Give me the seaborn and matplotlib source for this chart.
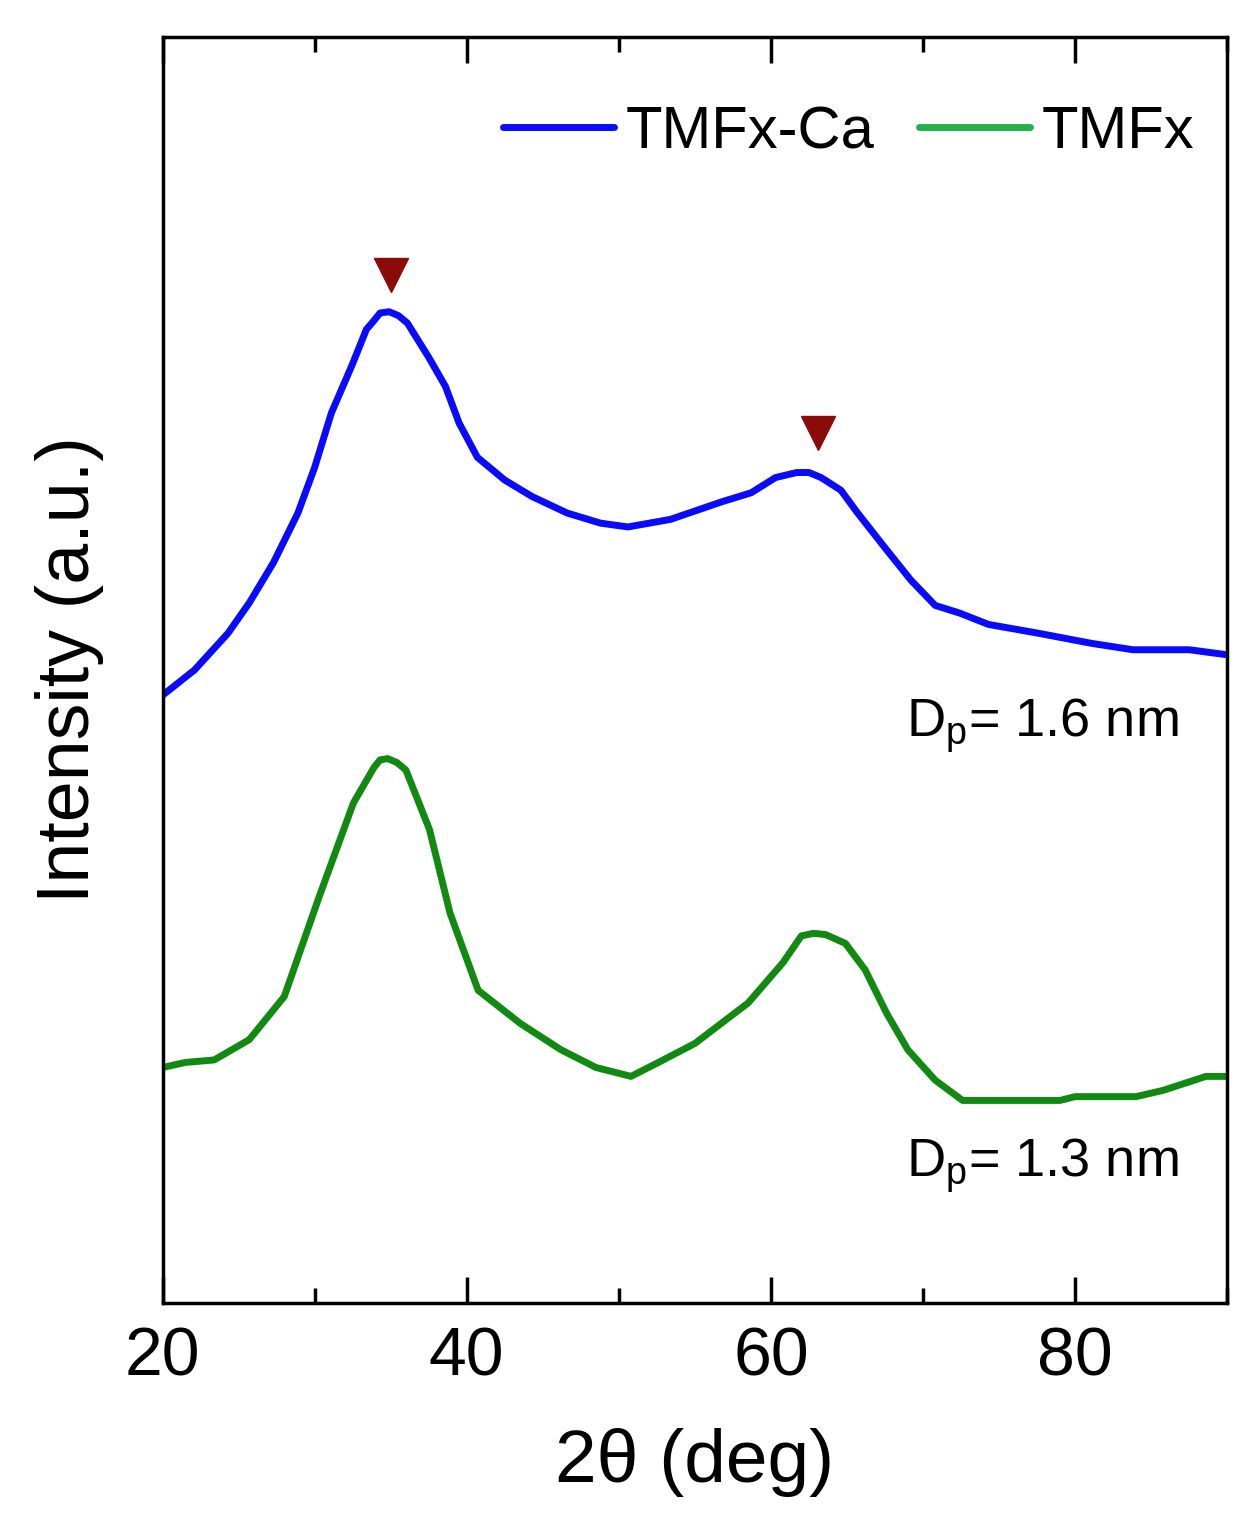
import pandas as pd
import matplotlib
matplotlib.use("Agg")
import matplotlib.pyplot as plt
import seaborn as sns
from matplotlib.ticker import MultipleLocator


# Data (intensity in arbitrary units, 0-100 frame)
ca_theta = [20.0, 22.1, 24.3, 25.7, 27.3, 28.9, 30.0, 31.1, 32.5, 33.4, 33.9, 34.3, 34.9,
            35.5, 36.1, 37.5, 38.6, 39.5, 40.7, 42.5, 44.3, 46.6, 48.8, 50.6, 53.4, 56.8,
            58.7, 60.3, 61.7, 62.5, 63.3, 64.6, 65.7, 67.6, 69.2, 70.8, 72.4, 74.3, 77.6,
            81.1, 83.8, 87.5, 90.0]
ca_int = [48.0, 50.0, 52.9, 55.3, 58.5, 62.4, 66.0, 70.3, 74.2, 76.9, 77.6, 78.2, 78.3,
          78.0, 77.4, 74.7, 72.4, 69.5, 66.8, 65.0, 63.7, 62.4, 61.6, 61.3, 61.9, 63.3,
          64.0, 65.2, 65.6, 65.6, 65.2, 64.2, 62.4, 59.5, 57.1, 55.1, 54.5, 53.6, 52.9,
          52.1, 51.6, 51.6, 51.2]

tmfx_theta = [20.0, 21.5, 23.4, 25.7, 28.0, 30.3, 32.55, 33.9, 34.3, 34.8, 35.4, 36.0,
              37.55, 38.9, 40.75, 43.5, 46.2, 48.5, 50.8, 52.6, 55.0, 58.5, 60.8, 62.0,
              62.8, 63.6, 64.9, 66.2, 67.6, 69.0, 70.8, 72.6, 79.0, 80.0, 84.0, 85.8,
              88.6, 90.0]
tmfx_int = [18.6, 19.0, 19.2, 20.8, 24.2, 32.1, 39.5, 42.3, 42.9, 43.0, 42.7, 42.1,
            37.4, 30.8, 24.7, 22.1, 20.0, 18.6, 17.9, 19.0, 20.5, 23.7, 26.9, 29.0,
            29.2, 29.1, 28.4, 26.3, 22.9, 20.0, 17.6, 16.0, 16.0, 16.3, 16.3, 16.8,
            17.9, 17.9]

peak_theta = [35.0, 63.1]
peak_int = [81.2, 68.7]

labels = ["TMFx-Ca", "TMFx"]
dp_text = ["D$_\\mathregular{p}$= 1.6 nm", "D$_\\mathregular{p}$= 1.3 nm"]
dp_y = [44.7, 9.95]

df = pd.concat([
    pd.DataFrame({"theta": ca_theta, "intensity": ca_int, "sample": labels[0]}),
    pd.DataFrame({"theta": tmfx_theta, "intensity": tmfx_int, "sample": labels[1]}),
])

sns.set_style("ticks")
plt.rcParams["font.family"] = ["Liberation Sans", "DejaVu Sans"]
plt.rcParams["mathtext.default"] = "regular"
plt.rcParams["text.color"] = "black"
plt.rcParams["axes.labelcolor"] = "black"
plt.rcParams["axes.edgecolor"] = "black"
plt.rcParams["xtick.color"] = "black"
plt.rcParams["ytick.color"] = "black"

fig = plt.figure(figsize=(12.6, 15.36), dpi=100)
ax = fig.add_axes([0.129, 0.1517, 0.845, 0.8242])

sns.lineplot(data=df, x="theta", y="intensity", hue="sample",
             palette={"TMFx-Ca": "#0a0aff", "TMFx": "#128a12"},
             linewidth=5, ax=ax, legend=True)

ax.plot(peak_theta, peak_int, linestyle="none", marker="v",
        markersize=25, color="#8b0a0a")

for txt, yy in zip(dp_text, dp_y):
    ax.text(68.9, yy, txt, fontsize=39, va="baseline", ha="left")

ax.set_xlim(20, 90)
ax.set_ylim(0, 100)
ax.set_yticks([])
ax.xaxis.set_major_locator(MultipleLocator(20))
ax.xaxis.set_minor_locator(MultipleLocator(10))
ax.tick_params(axis="x", which="both", direction="in", top=True, width=2.5,
               labelsize=49, pad=16)
ax.tick_params(axis="x", which="major", length=19)
ax.tick_params(axis="x", which="minor", length=11)
for s in ax.spines.values():
    s.set_linewidth(2.5)

ax.set_xlabel("2θ (deg)", fontsize=54, labelpad=28)
ax.set_ylabel("Intensity (a.u.)", fontsize=53, labelpad=42)

leg = ax.legend(loc="upper right", bbox_to_anchor=(0.9915, 0.965), ncol=2,
                frameon=False, fontsize=43, handlelength=1.85, handletextpad=0.2,
                columnspacing=0.75, borderaxespad=0)
for line in leg.get_lines():
    line.set_linewidth(5)
leg.get_lines()[1].set_color("#22b24a")

fig.savefig("out.png", dpi=100)
